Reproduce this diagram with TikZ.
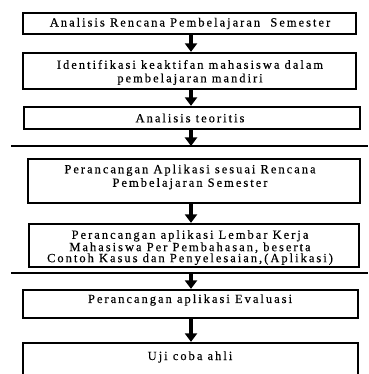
\documentclass[tikz,border=0pt]{standalone}
\usepackage{fontspec}
\setmainfont[LetterSpace=16,FakeBold=0.3]{Liberation Serif}
\usetikzlibrary{arrows.meta}
\tikzset{
	box/.style={draw, line width=2.3pt, inner sep=0pt},
	txt/.style={align=center, inner sep=0pt, font=\fontsize{12.5}{13.5}\selectfont},
	flow/.style={line width=3.2pt, -{Triangle[width=12pt,length=8.5pt]}},
	rule/.style={line width=1.8pt}
}

\begin{document}
\begin{tikzpicture}[x=1pt, y=-1pt]
		%%%%% START %%%%%
		\useasboundingbox (0,0) rectangle (368,374);
		\clip (0,0) rectangle (368,374);
		
		\coordinate (ax) at (191,0);
		
		\node[box, minimum width=333, minimum height=21] (b1) at (189.5,23.5) {};
		\node[txt] (t1) at (190,23.5) {Analisis Rencana Pembelajaran\ \ Semester};
		
		\node[box, minimum width=333, minimum height=36] (b2) at (189.5,71) {};
		\node[txt] (t2) at (190,72.5) {Identifikasi keaktifan mahasiswa dalam\\pembelajaran mandiri};
		
		\node[box, minimum width=336, minimum height=22] (b3) at (192,118) {};
		\node[txt] (t3) at (190,118) {Analisis teoritis};
		
		\draw[rule] (11,146) -- (368,146);
		\coordinate (l1) at (191,146);
		
		\node[box, minimum width=332, minimum height=44] (b4) at (194,181) {};
		\node[txt] (t4) at (190,177) {Perancangan Aplikasi sesuai Rencana\\Pembelajaran Semester};
		
		\node[box, minimum width=330, minimum height=43] (b5) at (194,245.5) {};
		\node[txt, font=\fontsize{12.5}{11}\selectfont] (t5) at (190,247.5) {Perancangan aplikasi Lembar Kerja\\Mahasiswa Per Pembahasan, beserta\\Contoh Kasus dan Penyelesaian,(Aplikasi)};
		
		\draw[rule] (11,273) -- (368,273);
		\coordinate (l2) at (191,273);
		
		\node[box, minimum width=335, minimum height=28] (b6) at (190.5,304) {};
		\node[txt] (t6) at (190,300) {Perancangan aplikasi Evaluasi};
		
		\node[box, minimum width=335, minimum height=41] (b7) at (190.5,363.5) {};
		\node[txt] (t7) at (190,357) {Uji coba ahli};
		
		% arrows
		\draw[flow] (b1.south -| ax) -- (b2.north -| ax);
		\draw[flow] (b2.south -| ax) -- (b3.north -| ax);
		\draw[flow] (b3.south -| ax) -- (l1);
		\draw[flow] (b4.south -| ax) -- (b5.north -| ax);
		\draw[flow] (l2) -- (b6.north -| ax);
		\draw[flow] (b6.south -| ax) -- (b7.north -| ax);
		
		%%%%% END %%%%%
\end{tikzpicture}
\end{document}
